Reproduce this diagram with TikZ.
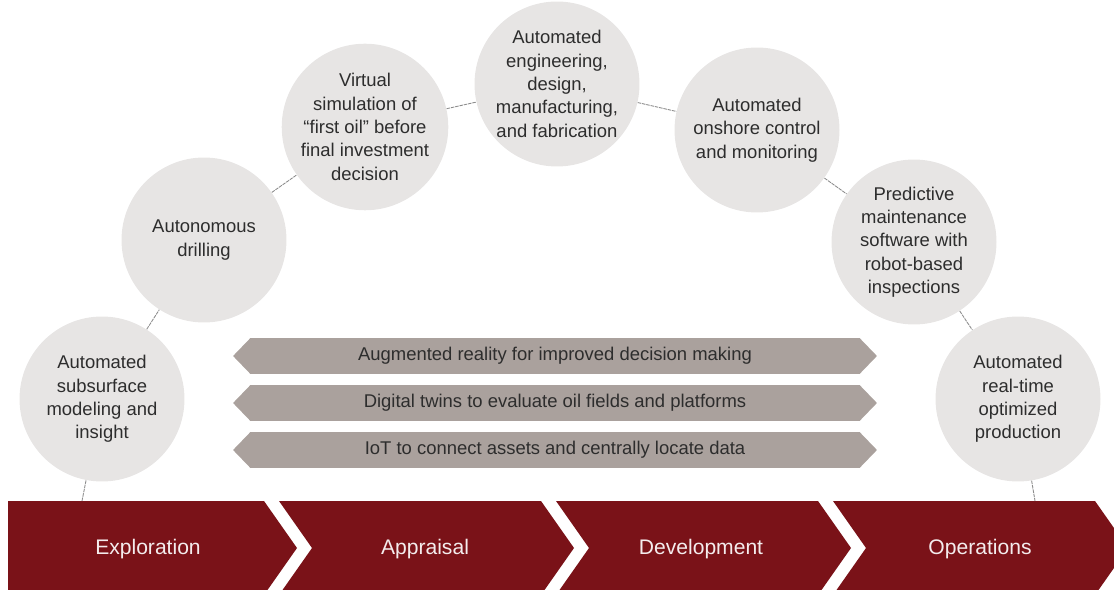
\documentclass[tikz,border=0pt]{standalone}
\usepackage{fontspec}
\setmainfont{Liberation Sans}
\usepackage{tikz}
\usetikzlibrary{shapes.symbols}

\definecolor{circfill}{RGB}{231,229,228}
\definecolor{bandfill}{RGB}{170,161,157}
\definecolor{phasered}{RGB}{122,18,24}
\definecolor{ink}{RGB}{45,45,45}
\definecolor{linkgray}{RGB}{140,140,140}

\begin{document}
\begin{tikzpicture}[x=0.02cm,y=-0.02cm,
  stage/.style={circle,fill=circfill,minimum size=3.3cm,inner sep=0pt,align=center,text=ink,font=\fontsize{10.5}{13.3}\selectfont},
  band/.style={signal,signal to=east and west,signal pointer angle=92,fill=bandfill,minimum width=12.88cm,minimum height=0.72cm,inner sep=0pt,text=ink,font=\fontsize{10.5}{12}\selectfont},
  phase/.style={text=white!92!phasered,font=\fontsize{12}{14}\selectfont},
  link/.style={draw=linkgray,line width=0.5pt,dash pattern=on 2pt off 0.5pt}]
\useasboundingbox (0,0) rectangle (1114,590);
\clip (0,0) rectangle (1114,590);

% value chain along the bottom
\fill[phasered] (8,501) -- (264,501) -- ++(33,47) -- ++(-33,47) -- (8,595) -- cycle;
\fill[phasered] (279,501) -- (541,501) -- ++(33,47) -- ++(-33,47) -- (279,595) -- ++(33,-47) -- cycle;
\fill[phasered] (556,501) -- (818,501) -- ++(33,47) -- ++(-33,47) -- (556,595) -- ++(33,-47) -- cycle;
\fill[phasered] (833,501) -- (1095,501) -- ++(33,47) -- ++(-33,47) -- (833,595) -- ++(33,-47) -- cycle;

\node[phase] (explore) at (148,549) {Exploration};
\node[phase] (appraise) at (425,549) {Appraisal};
\node[phase] (develop) at (701,549) {Development};
\node[phase] (operate) at (980,549) {Operations};

% enabling technologies
\node[band] (ar) at (555,356) {Augmented reality for improved decision making};
\node[band] (twin) at (555,403) {Digital twins to evaluate oil fields and platforms};
\node[band] (iot) at (555,450) {IoT to connect assets and centrally locate data};

% arc of automation steps
\node[stage] (c1) at (102,399) {Automated\\subsurface\\modeling and\\insight};
\node[stage] (c2) at (204,240) {Autonomous\\drilling};
\node[stage] (c3) at (365,127) {Virtual\\simulation of\\“first oil” before\\final investment\\decision};
\node[stage] (c4) at (557,84) {Automated\\engineering,\\design,\\manufacturing,\\and fabrication};
\node[stage] (c5) at (757,130) {Automated\\onshore control\\and monitoring};
\node[stage] (c6) at (914,242) {Predictive\\maintenance\\software with\\robot-based\\inspections};
\node[stage] (c7) at (1018,399) {Automated\\real-time\\optimized\\production};

\coordinate (foot1) at (82,501);
\coordinate (foot7) at (1035,501);

\draw[link] (foot1) -- (c1) -- (c2) -- (c3) -- (c4) -- (c5) -- (c6) -- (c7) -- (foot7);

\end{tikzpicture}
\end{document}
